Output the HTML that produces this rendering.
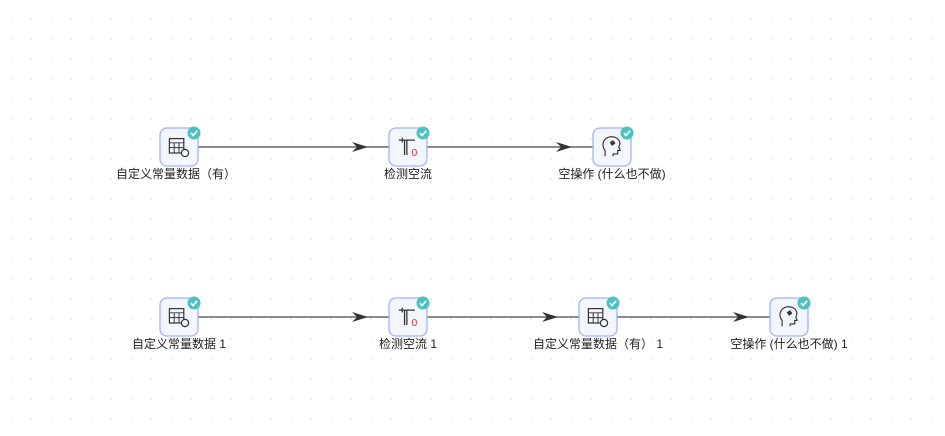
<!DOCTYPE html>
<html><head><meta charset="utf-8"><style>
body{margin:0;width:945px;height:436px;overflow:hidden;background:#fff;font-family:"Liberation Sans","Noto Sans CJK SC",sans-serif}
</style></head><body>
<svg width="945" height="436" xmlns="http://www.w3.org/2000/svg" style="position:absolute;left:0;top:0">
<defs>
<pattern id="g" x="10.5" y="18.5" width="20" height="20" patternUnits="userSpaceOnUse"><rect width="1" height="1" fill="#b8b8b8"/></pattern>
<g id="chk"><circle r="6.5" fill="#4fc0c0"/><path d="M-3 0 L-1 2.5 L3.2 -2.2" stroke="#fff" stroke-width="1.6" fill="none"/></g>
<g id="box"><rect x="-19" y="-19" width="38" height="38" rx="7" fill="#f3f5ff" stroke="#9fb3ff" stroke-width="1.3"/></g>
<g id="tbl" transform="scale(1.2)"><rect x="-8" y="-7" width="12" height="12" fill="none" stroke="#333" stroke-width="1"/><path d="M-8 -3.5H4 M-8 0.5H4 M-4 -3.5V5 M0 -3.5V5" stroke="#333" stroke-width="0.8"/><circle cx="5" cy="5" r="3" fill="#f3f5ff" stroke="#333" stroke-width="1"/></g>
<g id="tool" transform="scale(1.15)"><path d="M-8 -6H6 M-5 -8V-4 M-3 -6V7 M-1 -6V7" stroke="#333" stroke-width="1.1" fill="none"/><text x="3" y="8" font-size="9" fill="#e03030" font-family="Liberation Sans">0</text></g>
<g id="head" transform="scale(1.15)"><path d="M-6 8 V3 C-9 0 -9 -8 -1 -9 C6 -9 8 -4 6 0 L7 3 L5 3 L5 6 L1 6 V8" fill="none" stroke="#333" stroke-width="1"/><path d="M-2 -4 L1 -6 L3 -3 L0 -1 Z" fill="#333"/></g>
<path id="ah" d="M0 0 L-16 -5 L-11 0 L-16 5 Z" fill="#333"/>
</defs>
<rect width="945" height="436" fill="url(#g)"/>
<g stroke="#444" stroke-width="1.2">
<line x1="198" y1="147" x2="389" y2="147"/><line x1="427" y1="147" x2="593" y2="147"/>
<line x1="198" y1="317" x2="389" y2="317"/><line x1="427" y1="317" x2="579" y2="317"/><line x1="617" y1="317" x2="770" y2="317"/>
</g>
<use href="#ah" x="368" y="147"/><use href="#ah" x="572" y="147"/>
<use href="#ah" x="368" y="317"/><use href="#ah" x="558" y="317"/><use href="#ah" x="749" y="317"/>
<g transform="translate(179,147)"><use href="#box"/><use href="#tbl"/><use href="#chk" x="15" y="-14"/></g>
<g transform="translate(408,147)"><use href="#box"/><use href="#tool"/><use href="#chk" x="15" y="-14"/></g>
<g transform="translate(612,147)"><use href="#box"/><use href="#head"/><use href="#chk" x="15" y="-14"/></g>
<g transform="translate(179,317)"><use href="#box"/><use href="#tbl"/><use href="#chk" x="15" y="-14"/></g>
<g transform="translate(408,317)"><use href="#box"/><use href="#tool"/><use href="#chk" x="15" y="-14"/></g>
<g transform="translate(598,317)"><use href="#box"/><use href="#tbl"/><use href="#chk" x="15" y="-14"/></g>
<g transform="translate(789,317)"><use href="#box"/><use href="#head"/><use href="#chk" x="15" y="-14"/></g>
<g font-size="12" fill="#222" text-anchor="middle" font-family="Liberation Sans, Noto Sans CJK SC, sans-serif">
<text x="176" y="178">自定义常量数据（有）</text>
<text x="408" y="178">检测空流</text>
<text x="612" y="178">空操作 (什么也不做)</text>
<text x="179" y="348">自定义常量数据 1</text>
<text x="408" y="348">检测空流 1</text>
<text x="598" y="348">自定义常量数据（有） 1</text>
<text x="789" y="348">空操作 (什么也不做) 1</text>
</g>
</svg>
</body></html>
